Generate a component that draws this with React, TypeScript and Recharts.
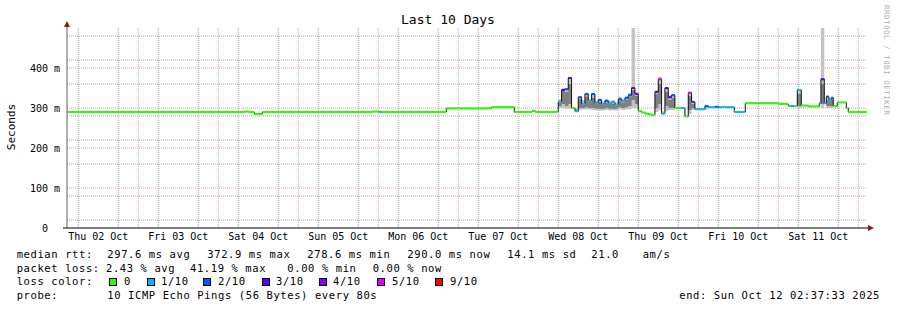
import React from 'react';
import { ComposedChart, Line, Area, XAxis, YAxis, CartesianGrid } from 'recharts';

// step starts, hours since Thu 02 Oct 00:00
const startHours = [
  2.62, 56.1, 57.0, 58.8, 61.2, 94.2, 96.3, 96.9, 116.4, 129.9, 136.8, 142.2, 143.1, 149.4,
  150, 151, 152, 153, 154, 155, 156, 157, 158, 159, 160, 161, 162, 163, 164, 165, 166, 167,
  168, 169, 170, 171, 172, 173, 174, 175, 176, 177, 178, 179, 180, 181, 182, 183, 184, 185,
  187, 188, 189, 190, 191, 194, 195, 197, 198, 199.5, 200, 202.8, 206.1, 216, 219, 219.6,
  220.8, 221.7, 222.9, 225, 228.3, 228.8, 229.8, 230.4, 231.2, 231.9, 232.5, 233.7, 236.4, 237,
];
const endHour = 242.62;

const medianMs = [
  290, 291, 290, 285, 290, 291, 290, 290, 299, 302, 290, 293, 290, 291,
  315, 345, 347, 375, 300, 292, 327, 310, 335, 318, 335, 312, 320, 310, 318, 312, 315, 308,
  322, 318, 325, 332, 350, 335, 292, 289, 286, 284, 283, 340, 372, 286, 350, 327, 332, 300,
  300, 279, 338, 315, 297, 305, 302, 303, 302, 303, 302, 290, 312, 310, 305, 305,
  305, 345, 306, 304, 312, 372, 312, 328, 320, 325, 305, 314, 300, 290,
];

// index into lossColors
const lossIdx = [
  0, 0, 0, 0, 0, 0, 1, 0, 0, 0, 0, 0, 0, 0,
  1, 3, 2, 3, 0, 1, 2, 1, 2, 1, 2, 1, 2, 1, 2, 1, 1, 1,
  2, 1, 2, 2, 3, 4, 0, 0, 0, 0, 0, 3, 5, 1, 3, 3, 2, 0,
  1, 0, 5, 2, 1, 2, 1, 2, 1, 0, 1, 1, 0, 0, 0, 1,
  0, 1, 0, 0, 1, 3, 1, 2, 1, 2, 0, 0, 0, 0,
];

const N = null;
const smokeLow = [
  N, N, N, N, N, N, N, N, N, N, N, N, N, N,
  300, 300, 298, 298, N, 290, 295, 296, 296, 296, 295, 294, 294, 294, 295, 294, 294, 294,
  296, 295, 296, 297, 300, 300, N, N, N, N, N, 290, 295, 284, 292, 295, 295, N,
  N, N, 285, 295, N, 296, N, N, N, N, N, N, N, N, N, N,
  N, 300, N, N, N, 300, N, 300, 300, 300, N, N, N, N,
];
const smokeHigh = [
  N, N, N, N, N, N, N, N, N, N, N, N, N, N,
  322, 350, 350, 378, N, 300, 330, 320, 338, 322, 338, 318, 324, 316, 322, 318, 320, 314,
  328, 322, 330, 338, 500, 340, N, N, N, N, N, 345, 378, 292, 352, 332, 335, N,
  N, N, 340, 318, N, 308, N, N, N, N, N, N, N, N, N, N,
  N, 348, N, N, N, 500, N, 332, 325, 330, N, N, N, N,
];
const coreLow = [
  N, N, N, N, N, N, N, N, N, N, N, N, N, N,
  305, 310, 305, 310, N, N, 300, 300, 302, 300, 300, 298, 298, 298, 300, 298, 298, 298,
  302, 300, 302, 305, 320, 310, N, N, N, N, N, 300, 310, N, 305, 300, 300, N,
  N, N, 295, 300, N, N, N, N, N, N, N, N, N, N, N, N,
  N, 305, N, N, N, 310, N, 305, 305, 305, N, N, N, N,
];
const coreHigh = [
  N, N, N, N, N, N, N, N, N, N, N, N, N, N,
  318, 345, 340, 360, N, N, 322, 312, 328, 315, 325, 310, 315, 308, 312, 310, 310, 305,
  318, 314, 320, 328, 345, 330, N, N, N, N, N, 335, 360, N, 340, 320, 325, N,
  N, N, 330, 310, N, N, N, N, N, N, N, N, N, N, N, N,
  N, 335, N, N, N, 360, N, 320, 318, 320, N, N, N, N,
];

const dayTicks = [12, 36, 60, 84, 108, 132, 156, 180, 204, 228];
const dayLabels = ['Thu 02 Oct', 'Fri 03 Oct', 'Sat 04 Oct', 'Sun 05 Oct', 'Mon 06 Oct',
  'Tue 07 Oct', 'Wed 08 Oct', 'Thu 09 Oct', 'Fri 10 Oct', 'Sat 11 Oct'];
const yTicks = [0, 100, 200, 300, 400];
const yTickLabels = ['0  ', '100 m', '200 m', '300 m', '400 m'];

const lossColors = ['#26ff00', '#00b8ff', '#0059ff', '#5e00ff', '#7e00ff', '#dd00ff', '#ff0000'];
const lossLabels = ['0', '1/10', '2/10', '3/10', '4/10', '5/10', '9/10'];
const lossSwatchX = [109, 147, 203, 262, 319, 377, 435];
const lossLabelX = [124, 161, 218, 276, 333, 392, 450];

const rttStats = ['297.6 ms avg', '372.9 ms max', '278.6 ms min', '290.0 ms now', '14.1 ms sd', '21.0', 'am/s'];
const rttStatX = [107.3, 207.3, 307.3, 407.3, 507.3, 591.3, 642.7];
const lossStats = ['2.43 % avg', '41.19 % max', '0.00 % min', '0.00 % now'];
const lossStatX = [106, 190, 287.3, 372.7];

const mono = '"DejaVu Sans Mono", monospace';

const minorX: number[] = [];
const majorX: number[] = [];
for (let h = 6; h <= 240; h += 6) (h % 24 === 0 ? majorX : minorX).push(h);
const minorY: number[] = [];
const majorY: number[] = [];
for (let v = 20; v <= 480; v += 20) (v % 100 === 0 ? majorY : minorY).push(v);

const stepEnd = (i: number) => (i + 1 < startHours.length ? startHours[i + 1] : endHour);

const medianLine = startHours
  .map((t, i) => ({ t, v: medianMs[i] }))
  .concat([{ t: endHour, v: medianMs[medianMs.length - 1] }]);

const lossSegments = lossColors.map((_, k) =>
  startHours.flatMap((t, i) =>
    lossIdx[i] === k
      ? [{ t, v: medianMs[i] }, { t: stepEnd(i), v: medianMs[i] }, { t: stepEnd(i), v: null }]
      : []
  )
);

const rangeSegments = (lo: (number | null)[], hi: (number | null)[]) =>
  startHours.flatMap((t, i) =>
    lo[i] != null && hi[i] != null
      ? [{ t, s: [lo[i], hi[i]] }, { t: stepEnd(i), s: [lo[i], hi[i]] }, { t: stepEnd(i), s: null }]
      : []
  );
const smokeOuter = rangeSegments(smokeLow, smokeHigh);
const smokeInner = rangeSegments(coreLow, coreHigh);

const XTick = ({ x, y, payload }: any) => (
  <text x={x} y={y} dy="0.71em" textAnchor="middle" fontFamily={mono} fontSize={10} fill="#000">
    {dayLabels[dayTicks.indexOf(payload.value)]}
  </text>
);

const YTick = ({ x, y, payload }: any) => (
  <text x={x} y={y} dy="0.35em" textAnchor="end" fontFamily={mono} fontSize={10} fill="#000"
    style={{ whiteSpace: 'pre' }}>
    {yTickLabels[yTicks.indexOf(payload.value)]}
  </text>
);

export default function App() {
  const txt = { fontFamily: mono, fontSize: 10.5, letterSpacing: 0.6, fill: '#000' } as const;
  return (
    <div style={{ position: 'absolute', left: 0, top: 0, width: 897, height: 310, background: '#fff' }}>
      <ComposedChart width={897} height={310} margin={{ top: 28, right: 30, left: 0, bottom: 62 }}>
        <CartesianGrid horizontalValues={minorY} verticalValues={minorX} stroke="#a8a8a8"
          strokeDasharray="1 1" syncWithTicks={false} />
        <CartesianGrid horizontalValues={majorY} verticalValues={majorX} stroke="#e4a0a0"
          strokeDasharray="1 1" syncWithTicks={false} />
        <XAxis type="number" dataKey="t" domain={[2.62, endHour]} ticks={dayTicks} height={20}
          tick={<XTick />} tickLine={false} tickSize={0} tickMargin={5} axisLine={{ stroke: '#000' }}
          allowDuplicatedCategory={false} />
        <YAxis type="number" domain={[0, 500]} ticks={yTicks} width={67} tick={<YTick />}
          tickLine={false} tickSize={0} tickMargin={7} axisLine={{ stroke: '#606060' }} allowDataOverflow />
        <Area data={smokeOuter} dataKey="s" type="linear" stroke="none" fill="#c2c2c2" fillOpacity={1}
          isAnimationActive={false} dot={false} activeDot={false} />
        <Area data={smokeInner} dataKey="s" type="linear" stroke="none" fill="#808080" fillOpacity={1}
          isAnimationActive={false} dot={false} activeDot={false} />
        <Line data={medianLine} dataKey="v" type="stepAfter" stroke="#111" strokeWidth={1}
          dot={false} activeDot={false} isAnimationActive={false} />
        {lossColors.map((c, k) => (
          <Line key={c} data={lossSegments[k]} dataKey="v" type="linear" stroke={c} strokeWidth={2}
            dot={false} activeDot={false} isAnimationActive={false} />
        ))}
      </ComposedChart>

      <svg width={897} height={310} style={{ position: 'absolute', left: 0, top: 0, pointerEvents: 'none' }}>
        <text x={448} y={24} textAnchor="middle" fontFamily={mono} fontSize={13} fill="#000">Last 10 Days</text>
        <text x={15} y={127} transform="rotate(-90 15 127)" textAnchor="middle" fontFamily={mono}
          fontSize={11} fill="#000">Seconds</text>
        <text x={884} y={5} transform="rotate(90 884 5)" fontFamily={mono} fontSize={7.5}
          letterSpacing={0.5} fill="#b0b0b0">RRDTOOL / TOBI OETIKER</text>

        {/* axis extensions and arrows */}
        <line x1={67} y1={28} x2={67} y2={24} stroke="#606060" />
        <line x1={63} y1={228} x2={67} y2={228} stroke="#000" />
        <line x1={867} y1={228} x2={869} y2={228} stroke="#000" />
        <polygon points="64,27 70,27 67,21" fill="#8b1a1a" />
        <polygon points="868,225 868,231 874,228" fill="#8b1a1a" />

        <g style={{ whiteSpace: 'pre' }}>
          <text x={16.7} y={258} {...txt}>median rtt:</text>
          {rttStats.map((s, i) => (
            <text key={s} x={rttStatX[i]} y={258} {...txt}>{s}</text>
          ))}
          <text x={16.7} y={271.5} {...txt}>packet loss:</text>
          {lossStats.map((s, i) => (
            <text key={s + i} x={lossStatX[i]} y={271.5} {...txt}>{s}</text>
          ))}
          <text x={16.7} y={285} {...txt}>loss color:</text>
          {lossColors.map((c, i) => (
            <g key={c}>
              <rect x={lossSwatchX[i] + 0.5} y={278.5} width={7} height={7} fill={c} stroke="#000" strokeWidth={1} />
              <text x={lossLabelX[i]} y={285} {...txt}>{lossLabels[i]}</text>
            </g>
          ))}
          <text x={16.7} y={298.5} {...txt}>probe:</text>
          <text x={107.3} y={298.5} {...txt}>10 ICMP Echo Pings (56 Bytes) every 80s</text>
          <text x={880} y={298.5} textAnchor="end" {...txt}>end: Sun Oct 12 02:37:33 2025</text>
        </g>
      </svg>
    </div>
  );
}
